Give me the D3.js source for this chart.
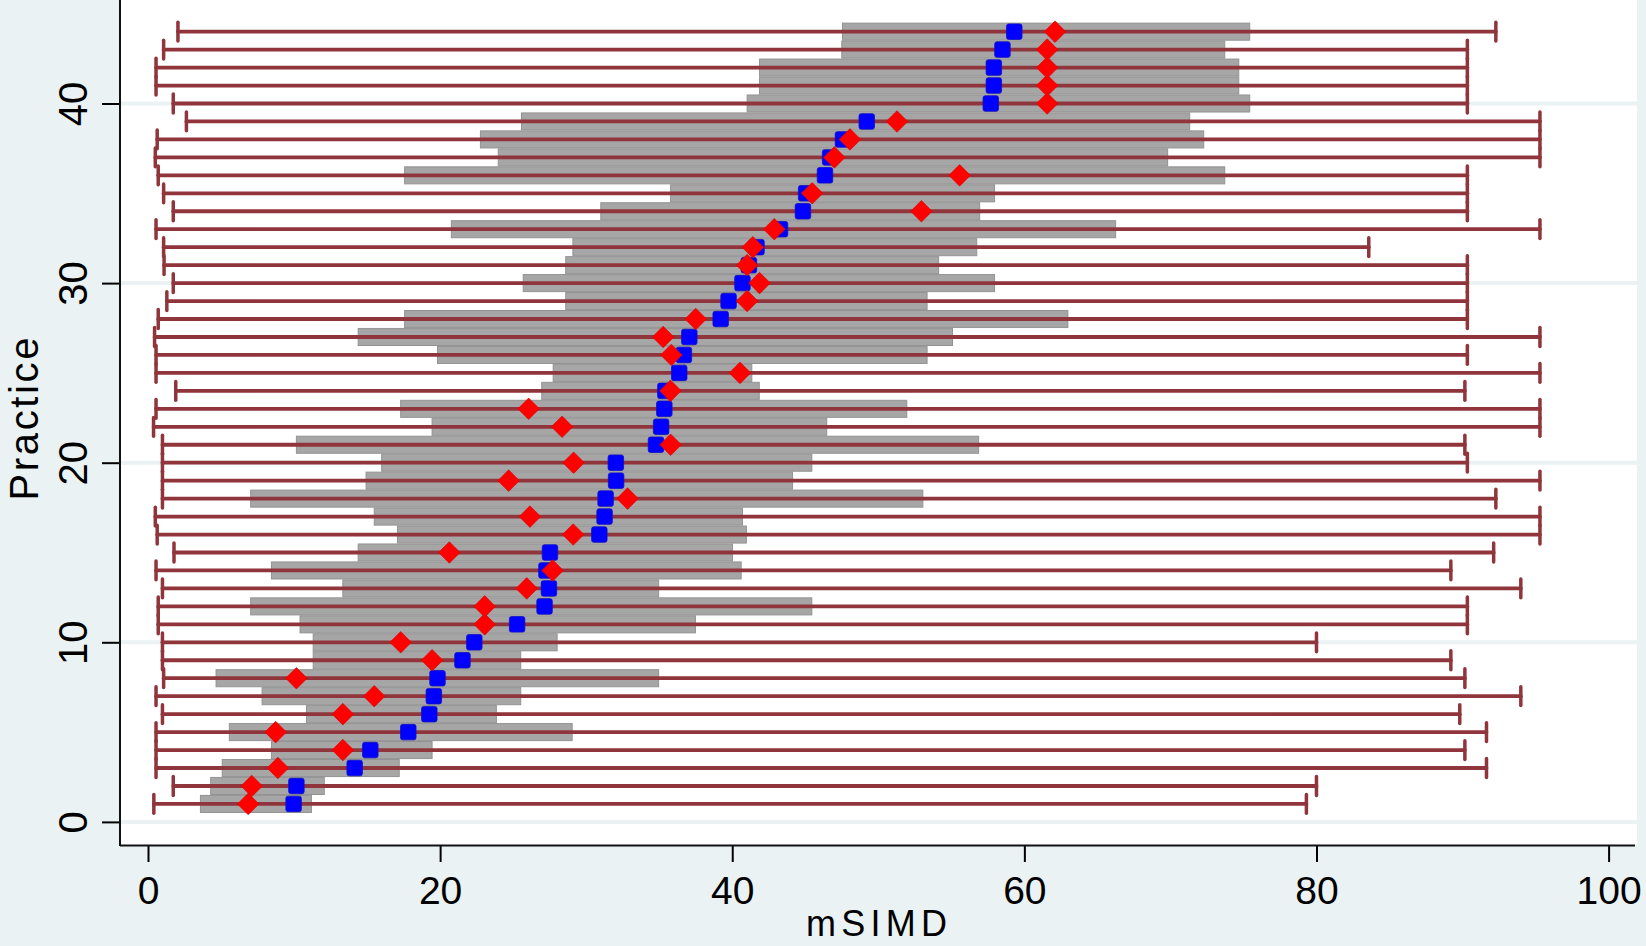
<!DOCTYPE html>
<html><head><meta charset="utf-8">
<script src="https://cdn.jsdelivr.net/npm/d3@7"></script>
<style>
html,body{margin:0;padding:0;background:#eaf2f3;overflow:hidden;}
svg{display:block;}
text{font-family:"Liberation Sans", Arial, Helvetica, sans-serif; fill:#000;}
</style></head><body>
<svg id="chart" width="1646" height="946"></svg>
<script>
// ---- data ----
const practice = [1,2,3,4,5,6,7,8,9,10,11,12,13,14,15,16,17,18,19,20,21,22,23,24,25,26,27,28,29,30,31,32,33,34,35,36,37,38,39,40,41,42,43,44];
const minVal = [0.4,1.73,0.55,0.55,0.55,0.99,0.55,1.07,0.99,0.99,0.7,0.7,0.99,0.55,1.78,0.63,0.5,0.99,0.99,0.99,0.99,0.38,0.55,1.9,0.55,0.55,0.45,0.7,1.29,1.73,1.1,1.07,0.55,1.73,1.07,0.7,0.5,0.63,2.63,1.73,0.55,0.55,1.07,2.05];
const maxVal = [79.31,80.0,91.64,90.16,91.64,89.81,93.99,90.16,89.2,80.0,90.33,90.33,93.99,89.2,92.13,95.3,95.3,92.28,95.3,90.33,90.16,95.3,95.3,90.16,95.3,90.33,95.3,90.33,90.33,90.33,90.33,83.58,95.3,90.33,90.33,90.33,95.3,95.3,95.3,90.33,90.33,90.33,90.33,92.28];
const q1Val = [3.59,4.29,5.08,8.45,5.57,10.85,7.81,4.66,11.31,11.31,10.41,7.03,13.34,8.45,14.39,17.08,15.49,7.03,14.93,16.0,10.16,19.45,17.3,26.96,27.74,19.82,14.39,17.57,28.6,25.69,28.6,29.09,20.77,31.0,35.78,17.57,23.98,22.76,25.57,41.02,41.87,41.87,47.5,47.55];
const q3Val = [11.19,12.07,17.2,19.45,29.04,23.85,25.52,34.96,25.52,28.01,37.48,45.45,34.96,40.61,40.02,40.97,40.7,53.05,44.13,45.45,56.87,46.47,51.95,41.85,41.34,53.34,55.08,62.98,53.34,57.96,54.13,56.74,66.25,56.94,57.96,73.72,69.81,72.28,71.32,75.43,74.68,74.68,73.72,75.43];
const medianVal = [9.97,10.16,14.15,15.22,17.82,19.26,19.57,19.82,21.53,22.34,25.27,27.15,27.45,27.28,27.52,30.9,31.26,31.33,32.05,32.03,34.78,35.13,35.35,35.42,36.37,36.69,37.06,39.21,39.75,40.7,41.14,41.66,43.27,44.84,45.06,46.35,46.7,47.58,49.21,57.7,57.91,57.91,58.5,59.31];
const meanVal = [6.86,7.1,8.89,13.34,8.74,13.34,15.49,10.16,19.45,17.3,23.05,23.05,25.93,27.7,20.63,29.11,26.15,32.83,24.69,29.14,35.78,28.35,26.06,35.77,40.53,35.83,35.27,37.5,41.02,41.87,41.02,41.41,42.88,52.95,45.47,55.57,46.99,48.06,51.28,61.56,61.56,61.56,61.56,62.1];
const xTicks = [0,20,40,60,80,100];
const yTicks = [0,10,20,30,40];
const xTitle = "mSIMD";
const yTitle = "Practice";

// ---- layout ----
const W = 1646, H = 946;
const plot = {left:120, right:1637, top:0, bottom:845};
const x = d3.scaleLinear().domain([0,100]).range([148,1608.6]);
const y = d3.scaleLinear().domain([0,40]).range([821.9,103.5]);

const rows = practice.map((p,i)=>({p, min:minVal[i], max:maxVal[i], q1:q1Val[i], q3:q3Val[i], med:medianVal[i], mean:meanVal[i]}));

const svg = d3.select("#chart");
svg.append("rect").attr("width",W).attr("height",H).attr("fill","#eaf2f3");
svg.append("rect").attr("x",plot.left).attr("y",plot.top)
   .attr("width",plot.right-plot.left).attr("height",plot.bottom-plot.top).attr("fill","#ffffff");

// gridlines
svg.append("g").selectAll("line").data(yTicks).join("line")
  .attr("x1",plot.left).attr("x2",plot.right)
  .attr("y1",d=>y(d)).attr("y2",d=>y(d))
  .attr("stroke","#eaf2f3").attr("stroke-width",4);

// boxes
const boxH = y(0) - y(0.95);
svg.append("g").selectAll("rect").data(rows).join("rect")
  .attr("x",d=>x(d.q1)).attr("width",d=>x(d.q3)-x(d.q1))
  .attr("y",d=>y(d.p)-boxH/2).attr("height",boxH)
  .attr("fill","#a6a6a6").attr("stroke","#939393").attr("stroke-width",1);

// range lines with caps
const rg = svg.append("g").attr("stroke","#90353b").attr("stroke-linecap","round");
rg.selectAll("line.r").data(rows).join("line").attr("class","r")
  .attr("x1",d=>x(d.min)).attr("x2",d=>x(d.max))
  .attr("y1",d=>y(d.p)).attr("y2",d=>y(d.p)).attr("stroke-width",3.8);
const capH = 9.4;
rg.selectAll("line.cl").data(rows).join("line").attr("class","cl")
  .attr("x1",d=>x(d.min)).attr("x2",d=>x(d.min))
  .attr("y1",d=>y(d.p)-capH).attr("y2",d=>y(d.p)+capH).attr("stroke-width",3.5);
rg.selectAll("line.cr").data(rows).join("line").attr("class","cr")
  .attr("x1",d=>x(d.max)).attr("x2",d=>x(d.max))
  .attr("y1",d=>y(d.p)-capH).attr("y2",d=>y(d.p)+capH).attr("stroke-width",3.5);

// median squares
const sq = 15.5;
svg.append("g").selectAll("rect").data(rows).join("rect")
  .attr("x",d=>x(d.med)-sq/2).attr("y",d=>y(d.p)-sq/2)
  .attr("width",sq).attr("height",sq).attr("rx",2.2)
  .attr("fill","#0000ff").attr("stroke","#1010c8").attr("stroke-width",0.8);

// mean diamonds
const dm = 10.8;
svg.append("g").selectAll("path").data(rows).join("path")
  .attr("d",d=>{const cx=x(d.mean), cy=y(d.p); return `M${cx},${cy-dm}L${cx+dm},${cy}L${cx},${cy+dm}L${cx-dm},${cy}Z`;})
  .attr("fill","#ff0000").attr("stroke","#e00000").attr("stroke-width",0.6).attr("stroke-linejoin","round");

// axes
const xAxis = svg.append("g").attr("transform",`translate(0,${plot.bottom})`)
  .call(d3.axisBottom(x).tickValues(xTicks).tickSize(17).tickFormat(d3.format("d")));
xAxis.select(".domain").remove();
xAxis.selectAll(".tick line").attr("stroke","#000").attr("stroke-width",2);
xAxis.selectAll(".tick text").attr("y",59).attr("dy",0)
  .style("font-size","39px").attr("fill","#000");
svg.append("line").attr("x1",plot.left).attr("x2",1635)
  .attr("y1",plot.bottom+0.5).attr("y2",plot.bottom+0.5).attr("stroke","#111").attr("stroke-width",2);

const yAxis = svg.append("g").attr("transform",`translate(${plot.left},0)`)
  .call(d3.axisLeft(y).tickValues(yTicks).tickSize(18).tickFormat(d3.format("d")));
yAxis.select(".domain").remove();
yAxis.selectAll(".tick line").attr("stroke","#000").attr("stroke-width",2);
yAxis.selectAll(".tick text").attr("x",null).attr("dy",0)
  .attr("transform","translate(-33,0) rotate(-90)")
  .attr("text-anchor","middle").style("font-size","40px").attr("fill","#000");
svg.append("line").attr("x1",plot.left).attr("x2",plot.left)
  .attr("y1",plot.top).attr("y2",plot.bottom+1).attr("stroke","#111").attr("stroke-width",2);

// titles
svg.append("text").attr("x",(plot.left+plot.right)/2 - 2).attr("y",936)
  .attr("text-anchor","middle").style("font-size","36px")
  .attr("textLength",141).attr("lengthAdjust","spacing").text(xTitle);
svg.append("text").attr("transform",`translate(38,${419}) rotate(-90)`)
  .attr("text-anchor","middle").style("font-size","40px")
  .attr("textLength",163).attr("lengthAdjust","spacing").text(yTitle);
</script>
</body></html>
